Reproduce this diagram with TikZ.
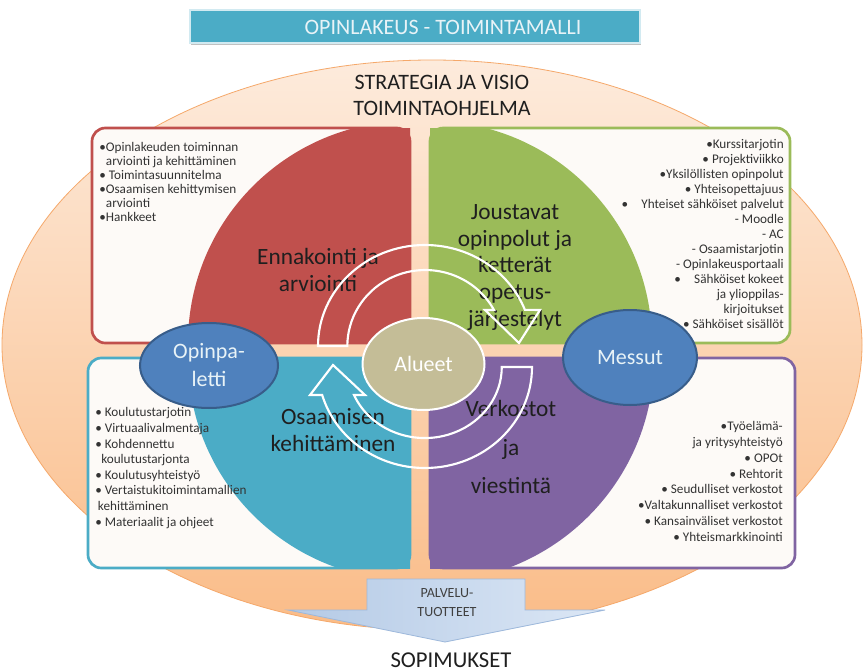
\documentclass[tikz,border=0pt]{standalone}
\usepackage{fontspec}
\setmainfont{Carlito}
\usetikzlibrary{shapes.geometric,shadows}
\definecolor{qred}{HTML}{C0504D}
\definecolor{qgreen}{HTML}{9BBB59}
\definecolor{qcyan}{HTML}{4BACC6}
\definecolor{qpurple}{HTML}{8064A2}
\definecolor{qblue}{HTML}{4F81BD}
\definecolor{qblueedge}{HTML}{385D8A}
\definecolor{qkhaki}{HTML}{C4BD97}
\definecolor{peachtop}{HTML}{FDEBDC}
\definecolor{peachbot}{HTML}{FABC88}
\definecolor{peachedge}{HTML}{F5A86A}
\definecolor{boxfill}{HTML}{FDFAF7}
\definecolor{txtdark}{HTML}{1F1F1F}
\definecolor{txtlist}{HTML}{333333}
\definecolor{arrowA}{HTML}{B4CAE6}
\definecolor{arrowB}{HTML}{DCE7F5}
\definecolor{arrowedge}{HTML}{9DB8DB}
\definecolor{titletxt}{HTML}{E8F3F7}
\begin{document}
\begin{tikzpicture}[x=0.75pt,y=0.75pt,
  quarter/.style={font=\fontsize{17.5}{20}\selectfont, text=txtdark, align=center, inner sep=0pt},
  listtxt/.style={text=txtlist, inner sep=0pt},
  boxfillstyle/.style={fill=boxfill, rounded corners=10pt},
  boxborder/.style={line width=2pt, rounded corners=10pt},
  blueoval/.style={ellipse, fill=qblue, draw=qblueedge, line width=1.5pt, text=titletxt, font=\fontsize{16.5}{21}\selectfont, align=center, inner sep=0pt},
  cyclearrow/.style={draw=white, line width=1.6pt, line join=miter}
]
\useasboundingbox (0,0) rectangle (865,-671);
\fill[white] (0,0) rectangle (865,-671);

% background ellipse
\shade[top color=peachtop, bottom color=peachbot, draw=peachedge, line width=0.6pt] (432,-345) ellipse [x radius=430, y radius=285];

% title
\node[fill=qcyan, draw=white!75!qcyan, line width=0.8pt, minimum width=337.5pt, minimum height=24.75pt,
      drop shadow={shadow xshift=0.8pt, shadow yshift=-1.5pt, fill=black!40, opacity=0.6}] (titlebox) at (415,-26.5) {};
\node[text=titletxt, font=\fontsize{16.5}{18}\selectfont] (title) at (443,-27) {OPINLAKEUS - TOIMINTAMALLI};

\node[font=\fontsize{16.5}{19}\selectfont, text=txtdark, align=center] (strat) at (442,-95.5) {STRATEGIA JA VISIO\\TOIMINTAOHJELMA};

% boxes with quarters
\fill[boxfillstyle] (92,-128) rectangle (410,-343);
\fill[boxfillstyle] (430,-128) rectangle (790,-343);
\fill[boxfillstyle] (88,-358) rectangle (410,-568);
\fill[boxfillstyle] (430,-358) rectangle (795,-568);
\begin{scope}
\clip (92,-128) rectangle (410,-343);
\fill[qred] (410,-343) -- (188,-343) arc[start angle=180, end angle=90, radius=222] -- cycle;
\end{scope}
\begin{scope}
\clip (430,-128) rectangle (790,-343);
\fill[qgreen] (430,-343) -- (652,-343) arc[start angle=0, end angle=90, radius=222] -- cycle;
\end{scope}
\begin{scope}
\clip (88,-358) rectangle (410,-568);
\fill[qcyan] (410,-358) -- (188,-358) arc[start angle=180, end angle=270, radius=222] -- cycle;
\end{scope}
\begin{scope}
\clip (430,-358) rectangle (795,-568);
\fill[qpurple] (430,-358) -- (654,-358) arc[start angle=0, end angle=-90, radius=224] -- cycle;
\end{scope}
\draw[boxborder, draw=qred] (92,-128) rectangle (410,-343);
\draw[boxborder, draw=qgreen] (430,-128) rectangle (790,-343);
\draw[boxborder, draw=qcyan] (88,-358) rectangle (410,-568);
\draw[boxborder, draw=qpurple] (430,-358) rectangle (795,-568);

% quarter titles
\node[quarter] (enn) at (318,-270) {Ennakointi ja\\arviointi};
\node[quarter] (jous) at (515,-267.5) {Joustavat\\opinpolut ja\\ketterät\\opetus-\\järjestelyt};
\node[quarter] (osaa) at (333,-430) {Osaamisen\\kehittäminen};
\node[quarter, font=\fontsize{17.5}{29}\selectfont] (verk) at (511,-447) {Verkostot\\ja\\viestintä};

% circular arrows
\draw[cyclearrow] (318,-346) arc[start angle=180, end angle=21, x radius=107, y radius=101]
  -- (540,-310) -- (519,-343) -- (485,-310) -- (494,-310)
  arc[start angle=28.3, end angle=180, x radius=78, y radius=76] -- cycle;
\draw[cyclearrow] (532,-367) arc[start angle=0, end angle=-163.9, x radius=107, y radius=101]
  -- (310,-395) -- (333,-365) -- (365,-395) -- (354,-395)
  arc[start angle=-156.8, end angle=0, x radius=77, y radius=71] -- cycle;

% ovals
\node[ellipse, fill=qkhaki, draw=white, line width=1.5pt, minimum width=91.5pt, minimum height=69pt,
      text=white, font=\fontsize{16.5}{18}\selectfont, inner sep=0pt] (alueet) at (423.5,-364) {Alueet};
\node[blueoval, minimum width=103.5pt, minimum height=63.75pt] (opin) at (209,-365.5) {Opinpa-\\letti};
\node[blueoval, minimum width=100.5pt, minimum height=71.25pt] (messut) at (630,-357.5) {Messut};

% lists
\node[listtxt, anchor=north west, align=left, font=\fontsize{9.9}{10.4}\selectfont] (listtl) at (99,-142.5)
 {•Opinlakeuden toiminnan\\\hspace*{5pt}arviointi ja kehittäminen\\• Toimintasuunnitelma\\•Osaamisen kehittymisen\\\hspace*{5pt}arviointi\\•Hankkeet};
\node[listtxt, anchor=north east, align=right, font=\fontsize{9.9}{11.2}\selectfont] (listtr) at (784,-139.5)
 {•Kurssitarjotin\\• Projektiviikko\\•Yksilöllisten opinpolut\\• Yhteisopettajuus\\•\hspace{10pt}Yhteiset sähköiset palvelut\\- Moodle\\- AC\\- Osaamistarjotin\\- Opinlakeusportaali\\•\hspace{10pt}Sähköiset kokeet\\ja ylioppilas-\\kirjoitukset\\• Sähköiset sisällöt};
\node[listtxt, anchor=north west, align=left, font=\fontsize{9.9}{11.7}\selectfont] (listbl) at (95,-407.5)
 {• Koulutustarjotin\\• Virtuaalivalmentaja\\• Kohdennettu\\\hspace*{4.5pt}koulutustarjonta\\• Koulutusyhteistyö\\• Vertaistukitoimintamallien\\\hspace*{2pt}kehittäminen\\• Materiaalit ja ohjeet};
\node[listtxt, anchor=north east, align=right, font=\fontsize{9.9}{11.8}\selectfont] (listbr) at (783,-421.5)
 {•Työelämä-\\ja yritysyhteistyö\\• OPOt\\• Rehtorit\\• Seudulliset verkostot\\•Valtakunnalliset verkostot\\• Kansainväliset verkostot\\• Yhteismarkkinointi};

% bottom arrow
\shade[left color=arrowA, right color=arrowB, draw=arrowedge, line width=0.6pt]
  (367,-579) -- (525,-579) -- (525,-610) -- (605,-610) -- (445,-642) -- (288,-610) -- (367,-610) -- cycle;
\node[text=black!75, font=\fontsize{10.5}{14}\selectfont, align=center] (palv) at (447,-602.5) {PALVELU-\\TUOTTEET};
\node[text=txtdark, font=\fontsize{17}{19}\selectfont] (sopim) at (451,-660) {SOPIMUKSET};
\end{tikzpicture}
\end{document}
